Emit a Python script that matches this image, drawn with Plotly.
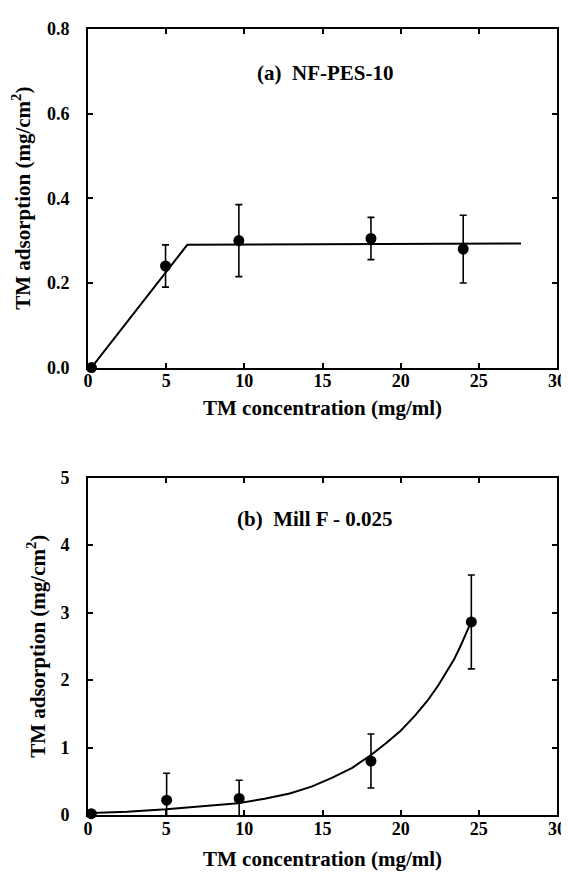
import plotly.graph_objects as go

# ---- Data ----
conc_a = [0.22, 4.96, 9.65, 18.1, 24.0]
ads_a = [0.0, 0.240, 0.300, 0.305, 0.280]
err_a = [0.0, 0.05, 0.085, 0.05, 0.08]
fit_a_x = [0.22, 6.35, 27.7]
fit_a_y = [0.0, 0.29, 0.293]

conc_b = [0.21, 5.03, 9.67, 18.1, 24.52]
ads_b = [0.02, 0.22, 0.246, 0.80, 2.862]
err_b = [0.0, 0.40, 0.27, 0.40, 0.695]
fit_b_x = [0.2, 2.5, 5.0, 7.5, 9.6, 11.3, 12.9, 14.3, 15.6, 16.9, 18.1, 19.1, 20.0,
           20.9, 21.7, 22.4, 23.0, 23.4, 23.8, 24.2, 24.5]
fit_b_y = [0.03, 0.05, 0.085, 0.13, 0.175, 0.24, 0.32, 0.42, 0.55, 0.70, 0.89, 1.07,
           1.25, 1.47, 1.69, 1.92, 2.14, 2.30, 2.49, 2.69, 2.86]

x_ticks = [0, 5, 10, 15, 20, 25, 30]
ya_ticks = [0.0, 0.2, 0.4, 0.6, 0.8]
yb_ticks = [0, 1, 2, 3, 4, 5]

label_a = "(a)\u00a0\u00a0NF-PES-10"
label_b = "(b)\u00a0\u00a0Mill F - 0.025"
x_title = "TM concentration (mg/ml)"
y_title = "TM adsorption (mg/cm<sup>2</sup>)"

FONT = "Liberation Serif, Times New Roman, Times, serif"
W, H = 569, 872
ML, MR, MT, MB = 80, 11, 20, 65
PH = H - MT - MB
top_dom = [(H - MB - 359) / PH, 1.0]
bot_dom = [0.0, (H - MB - 469.3) / PH]
SHIFT = 9

fig = go.Figure()

def add_panel(xs, ys, errs, fx, fy, xa, ya):
    fig.add_trace(go.Scatter(x=fx, y=fy, mode="lines", xaxis=xa, yaxis=ya,
                             line=dict(color="black", width=2),
                             showlegend=False, hoverinfo="skip"))
    fig.add_trace(go.Scatter(x=xs[1:], y=ys[1:], mode="markers", xaxis=xa, yaxis=ya,
                             marker=dict(size=0.1, color="rgba(0,0,0,0)"),
                             error_y=dict(type="data", array=errs[1:], symmetric=True,
                                          color="black", thickness=1.6, width=3.5),
                             showlegend=False, hoverinfo="skip"))
    fig.add_trace(go.Scatter(x=xs, y=ys, mode="markers", xaxis=xa, yaxis=ya,
                             marker=dict(size=11, color="black"), cliponaxis=False,
                             showlegend=False))

add_panel(conc_a, ads_a, err_a, fit_a_x, fit_a_y, "x", "y")
add_panel(conc_b, ads_b, err_b, fit_b_x, fit_b_y, "x2", "y2")

axis_common = dict(showgrid=False, zeroline=False, showline=True, linecolor="black",
                   linewidth=2, mirror="ticks", ticks="inside", ticklen=5, tickwidth=1.5,
                   tickcolor="black",
                   tickfont=dict(family=FONT, size=18, color="black", weight="bold"))

fig.update_layout(
    width=W, height=H,
    margin=dict(l=ML, r=MR, t=MT, b=MB),
    paper_bgcolor="white", plot_bgcolor="white",
    font=dict(family=FONT, color="black"),
    xaxis=dict(domain=[0, 1], range=[0, 30], tickvals=x_ticks, anchor="y",
               ticklabelstandoff=-4, **axis_common),
    yaxis=dict(domain=top_dom, range=[0, 0.8], tickvals=ya_ticks, tickformat=".1f",
               anchor="x", ticklabelstandoff=13, **axis_common),
    xaxis2=dict(domain=[0, 1], range=[0, 30], tickvals=x_ticks, anchor="y2",
                ticklabelstandoff=-4, **axis_common),
    yaxis2=dict(domain=bot_dom, range=[0, 5], tickvals=yb_ticks, anchor="x2",
                ticklabelstandoff=13, **axis_common),
)

tfont = dict(family=FONT, size=21, color="black", weight="bold")
ann = []
ann.append(dict(x=15.17, y=0.674, xref="x", yref="y", text=label_a, showarrow=False,
                font=tfont, xanchor="center", yanchor="middle", yshift=SHIFT))
ann.append(dict(x=14.5, y=4.25, xref="x2", yref="y2", text=label_b, showarrow=False,
                font=tfont, xanchor="center", yanchor="middle", yshift=SHIFT))
ann.append(dict(x=0.5, y=(H - MB - 408) / PH, xref="paper", yref="paper", text=x_title,
                showarrow=False, font=tfont, xanchor="center", yanchor="middle",
                yshift=SHIFT))
ann.append(dict(x=0.5, y=(H - MB - 860) / PH, xref="paper", yref="paper", text=x_title,
                showarrow=False, font=tfont, xanchor="center", yanchor="middle",
                yshift=SHIFT))
ann.append(dict(x=0, xshift=22.5 - ML - SHIFT, y=sum(top_dom) / 2, xref="paper",
                yref="paper", text=y_title, textangle=-90, showarrow=False, font=tfont,
                xanchor="center", yanchor="middle"))
ann.append(dict(x=0, xshift=37.5 - ML - SHIFT, y=sum(bot_dom) / 2, xref="paper",
                yref="paper", text=y_title, textangle=-90, showarrow=False, font=tfont,
                xanchor="center", yanchor="middle"))
fig.update_layout(annotations=ann)

fig.write_html("out.html")
